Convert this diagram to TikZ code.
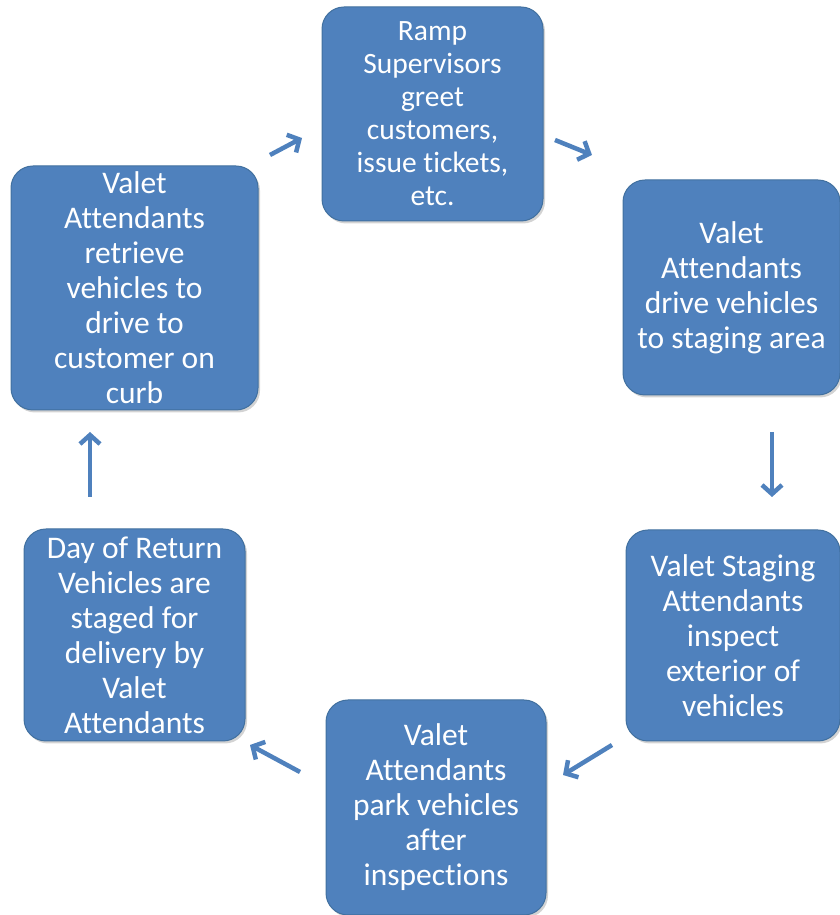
\documentclass[tikz,border=0pt]{standalone}
\usepackage{fontspec}
\setmainfont[Ligatures=NoCommon]{Carlito}
\usetikzlibrary{arrows.meta,shadows}

\definecolor{boxblue}{HTML}{4F81BD}
\definecolor{boxedge}{HTML}{41709F}

\begin{document}
\begin{tikzpicture}[x=1pt,y=1pt,>={Straight Barb[length=9pt,width=20pt]}]
  \tikzstyle{every node}=[text=white,align=center]
  \tikzstyle{stepbox}=[rectangle,rounded corners=22pt,fill=boxblue,draw=boxedge,line width=1pt,
    drop shadow={shadow xshift=2pt,shadow yshift=-2.5pt,opacity=0.35},
    font=\fontsize{31.5}{35}\selectfont,inner sep=0pt]
  \tikzstyle{cyc}=[->,draw=boxblue,line width=4.5pt]

  \useasboundingbox (0,0) rectangle (840,915);

  \node[stepbox,minimum width=221pt,minimum height=214pt,font=\fontsize{29.5}{33}\selectfont]
    (ramp) at (432.5,801) {Ramp\\Supervisors\\greet\\customers,\\issue tickets,\\etc.};
  \node[stepbox,minimum width=217pt,minimum height=215pt]
    (drive) at (731.5,627.5) {Valet\\Attendants\\drive vehicles\\to staging area};
  \node[stepbox,minimum width=214pt,minimum height=211pt]
    (inspect) at (733,279.5) {Valet Staging\\Attendants\\inspect\\exterior of\\vehicles};
  \node[stepbox,minimum width=220pt,minimum height=215pt]
    (park) at (436,107.5) {Valet\\Attendants\\park vehicles\\after\\inspections};
  \node[stepbox,minimum width=221pt,minimum height=212pt]
    (stage) at (134.5,280) {Day of Return\\Vehicles are\\staged for\\delivery by\\Valet\\Attendants};
  \node[stepbox,minimum width=247pt,minimum height=244pt]
    (retrieve) at (134.5,627) {Valet\\Attendants\\retrieve\\vehicles to\\drive to\\customer on\\curb};

  % cycle arrows between the boxes
  \coordinate (a1s) at (270,760);  \coordinate (a1e) at (302,777);
  \coordinate (a2s) at (555,775);  \coordinate (a2e) at (592,760);
  \coordinate (a3s) at (772,483);  \coordinate (a3e) at (772,418);
  \coordinate (a4s) at (612,170);  \coordinate (a4e) at (563,140);
  \coordinate (a5s) at (300,143);  \coordinate (a5e) at (250,170);
  \coordinate (a6s) at (90,418);   \coordinate (a6e) at (90,483);

  \draw[cyc] (a1s) -- (a1e);
  \draw[cyc] (a2s) -- (a2e);
  \draw[cyc] (a3s) -- (a3e);
  \draw[cyc] (a4s) -- (a4e);
  \draw[cyc] (a5s) -- (a5e);
  \draw[cyc] (a6s) -- (a6e);
\end{tikzpicture}
\end{document}
